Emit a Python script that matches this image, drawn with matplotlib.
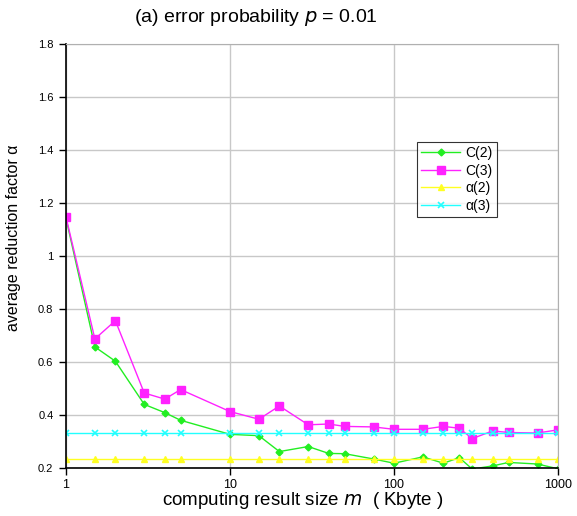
import matplotlib
matplotlib.use('Agg')
import matplotlib.pyplot as plt
from matplotlib.ticker import FixedLocator, NullLocator

plt.rcParams['font.family'] = ['Liberation Sans', 'DejaVu Sans']

# data
sizes = [1, 1.5, 2, 3, 4, 5, 10, 15, 20, 30, 40, 50, 75, 100,
         150, 200, 250, 300, 400, 500, 750, 1000]
c2 = [1.142, 0.657, 0.603, 0.440, 0.409, 0.380, 0.327, 0.322, 0.262, 0.281, 0.255,
      0.254, 0.234, 0.218, 0.242, 0.218, 0.239, 0.196, 0.208, 0.221, 0.215, 0.197]
c3 = [1.147, 0.687, 0.756, 0.483, 0.460, 0.496, 0.413, 0.384, 0.434, 0.363, 0.366,
      0.357, 0.355, 0.346, 0.346, 0.357, 0.350, 0.311, 0.340, 0.334, 0.332, 0.344]
alpha2 = [0.235] * len(sizes)
alpha3 = [0.333] * len(sizes)

fig = plt.figure(figsize=(5.77, 5.16), dpi=100)
ax = fig.add_axes([66 / 577, 1 - 468 / 516, (558 - 66) / 577, (468 - 44) / 516])

ax.plot(sizes, c2, color='#22ee22', marker='D', markersize=3.5, lw=1, label='C(2)')
ax.plot(sizes, c3, color='#ff22ff', marker='s', markersize=5.5, lw=1, label='C(3)')
ax.plot(sizes, alpha2, color='#ffff22', marker='^', markersize=5, lw=1, label='\u03b1(2)')
ax.plot(sizes, alpha3, color='#22ffff', marker='x', markersize=4.5, mew=1.2, lw=1, label='\u03b1(3)')

ax.set_xscale('log')
ax.set_xlim(1, 1000)
ax.set_ylim(0.2, 1.8)
ax.xaxis.set_major_locator(FixedLocator([1, 10, 100, 1000]))
ax.xaxis.set_minor_locator(NullLocator())
ax.set_xticks([1, 10, 100, 1000])
ax.set_xticklabels(['1', '10', '100', '1000'], fontsize=9)
yt = [0.2, 0.4, 0.6, 0.8, 1.0, 1.2, 1.4, 1.6, 1.8]
ax.set_yticks(yt)
ax.set_yticklabels(['0.2', '0.4', '0.6', '0.8', '1', '1.2', '1.4', '1.6', '1.8'], fontsize=8)
ax.tick_params(axis='both', direction='out', length=5, width=1, color='black', pad=4)
ax.tick_params(axis='x', pad=3)

ax.grid(True, color='#c8c8c8', lw=1)
ax.set_axisbelow(True)
for s in ['top', 'right']:
    ax.spines[s].set_color('#b0b0b0')
for s in ['left', 'bottom']:
    ax.spines[s].set_color('black')
    ax.spines[s].set_linewidth(1.2)

fig.text(303 / 577, 1 - 505 / 516, r'computing result size $m$  ( Kbyte )',
         ha='center', va='baseline', fontsize=13.5)
fig.text(14 / 577, 1 - 238 / 516, 'average reduction factor \u03b1', rotation=90,
         ha='center', va='center', fontsize=11.5,
         family=['DejaVu Sans Condensed', 'Liberation Sans', 'DejaVu Sans'],
         fontstretch='condensed')
fig.text(256 / 577, 1 - 18 / 516, r'(a) error probability $p$ = 0.01',
         ha='center', va='center', fontsize=14)

leg = ax.legend(loc='upper left', bbox_to_anchor=((417 - 66) / 492, (468 - 142) / 424),
                fontsize=10, frameon=True, fancybox=False, edgecolor='black',
                borderpad=0.3, labelspacing=0.25, handlelength=2.8, handletextpad=0.4,
                borderaxespad=0)
leg.get_frame().set_linewidth(0.8)

fig.savefig('out.png', dpi=100)
